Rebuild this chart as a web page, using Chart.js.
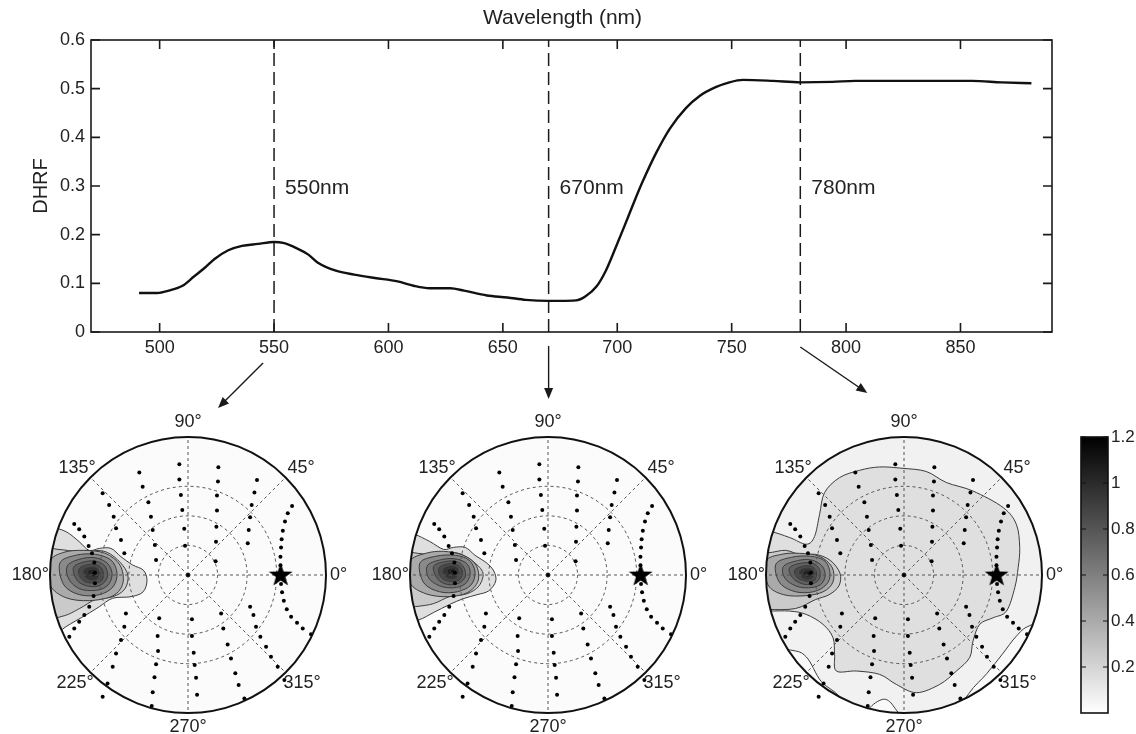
<!DOCTYPE html>
<html>
<head>
<meta charset="utf-8">
<script src="https://cdn.jsdelivr.net/npm/chart.js@4.4.0/dist/chart.umd.min.js"></script>
<style>
  body { margin: 0; background: #fff; width: 1136px; height: 734px; position: relative; overflow: hidden; }
  canvas { position: absolute; }
</style>
</head>
<body>
<canvas id="spec" width="1136" height="420" style="left:0px;top:0px"></canvas>
<canvas id="p550" width="376" height="334" style="left:0px;top:400px"></canvas>
<canvas id="p670" width="376" height="334" style="left:360px;top:400px"></canvas>
<canvas id="p780" width="376" height="334" style="left:716px;top:400px"></canvas>
<canvas id="cbar" width="96" height="334" style="left:1040px;top:400px"></canvas>
<script>
const FONT = '"Liberation Sans", Arial, sans-serif';
Chart.defaults.font.family = FONT;
Chart.defaults.color = '#222';

// ---- spectrum ----
const wavelength = [491, 499, 504, 510, 515, 520, 524, 530, 536, 543, 550, 554, 560, 565, 569, 577, 585, 594, 604, 611, 618, 627, 633, 643, 652, 660, 670, 675, 682, 686, 691, 695, 699, 703, 707, 711, 717, 723, 730, 736, 743, 749, 755, 768, 780, 794, 804, 855, 868, 881];
const dhrf = [0.080, 0.080, 0.085, 0.095, 0.114, 0.133, 0.150, 0.168, 0.177, 0.181, 0.185, 0.183, 0.172, 0.159, 0.143, 0.126, 0.118, 0.111, 0.104, 0.095, 0.090, 0.090, 0.085, 0.075, 0.071, 0.066, 0.064, 0.064, 0.065, 0.073, 0.094, 0.126, 0.170, 0.216, 0.263, 0.308, 0.368, 0.418, 0.460, 0.485, 0.503, 0.513, 0.518, 0.516, 0.513, 0.514, 0.516, 0.516, 0.513, 0.511];
const waveTicks = [500, 550, 600, 650, 700, 750, 800, 850];
const dhrfTicks = [0, 0.1, 0.2, 0.3, 0.4, 0.5, 0.6];
const bandLines = [550, 670, 780];
const bandLabels = ['550nm', '670nm', '780nm'];

// ---- polar plots (zenith in degrees, projected x = 0° azimuth, y = 90°) ----
const maxZenith = 70;
const zenithRings = [15, 30, 45];
const azimuthLabels = ['0°', '45°', '90°', '135°', '180°', '225°', '270°', '315°'];
const sunZenith = 47;
const hotspotLevels = [0.1, 0.2, 0.35, 0.5, 0.6, 0.7, 0.8, 0.9, 1.0, 1.1];
const colorTicks = [0.2, 0.4, 0.6, 0.8, 1, 1.2];

const samplePoints = [
  // left line
  [-57.7, 25.9], [-55.2, 23.2], [-52.6, 19.5], [-50.4, 14.7], [-48.7, 11.0], [-47.5, 6.3], [-47.2, 1.2], [-47.2, -4.2],
  [-47.9, -10.7], [-50.1, -16.1], [-52.6, -20.3], [-55.2, -23.7], [-57.7, -27.1], [-60.2, -31.3],
  // -30 line
  [-43.3, 41.5], [-40.0, 35.5], [-37.7, 29.6], [-36.5, 23.7], [-34.0, 17.8], [-32.3, 11.0],
  [-31.5, -19.5], [-32.3, -26.2], [-34.0, -33.0], [-36.5, -39.8], [-38.2, -46.5], [-40.8, -55.0], [-43.3, -61.8],
  // -15 line
  [-24.7, 52.0], [-23.0, 44.8], [-20.1, 36.9], [-18.8, 29.6], [-17.9, 22.8], [-16.8, 15.2], [-16.2, 7.6],
  [-14.6, -22.0], [-15.4, -31.0], [-15.2, -38.6], [-16.2, -45.3], [-17.0, -51.9], [-17.9, -59.5], [-18.4, -66.5],
  // centre line
  [-4.4, 56.2], [-4.4, 48.5], [-3.6, 40.6], [-2.9, 33.0], [-1.9, 23.4], [-1.5, 14.9], [0, 0],
  [2.0, -22.5], [2.0, -31.0], [2.9, -39.4], [3.4, -45.7], [4.1, -52.1], [4.6, -60.7],
  // +15 line
  [15.4, 54.7], [15.2, 47.4], [14.7, 40.3], [14.7, 32.7], [14.4, 24.5], [14.2, 16.9], [14.0, 7.0],
  [16.8, -19.5], [17.9, -27.1], [20.1, -35.2], [21.8, -42.3], [24.0, -49.9], [25.7, -55.8], [28.6, -62.6],
  // +30 line
  [35.0, 48.2], [33.7, 41.8], [32.3, 35.5], [31.5, 29.3], [30.8, 22.8], [30.3, 16.1],
  [31.5, -16.1], [33.2, -20.3], [34.5, -26.2], [36.7, -31.3], [39.6, -36.4], [42.1, -41.5], [45.5, -46.5], [48.9, -53.3],
  // right line
  [52.8, 35.0], [50.6, 31.3], [49.2, 27.1], [48.1, 22.5], [47.5, 18.1], [47.2, 13.9], [46.9, 9.3], [46.9, 4.9],
  [47.2, -4.6], [47.7, -8.8], [48.6, -13.0], [50.1, -17.4], [52.3, -21.2], [55.3, -24.2], [58.2, -27.1], [62.4, -30.0]
];

// hotspot contours, one closed outline per level (outside parts are clipped by the circle)
const hotspot550 = [
  [[-80, 26], [-70, 24.5], [-61.9, 22], [-55.2, 16.9], [-50.1, 12.4], [-45, 13.5], [-39.1, 13.5], [-34, 9.3], [-28.1, 5.1], [-22.7, 2.5], [-20.8, -2.5], [-22.7, -8.5], [-28.9, -11], [-38.2, -11.8], [-45, -16.1], [-51.8, -20.3], [-61.9, -26.2], [-68.7, -31.3], [-80, -35], [-90, 0]],
  [[-80, 14], [-66, 13], [-56, 12], [-48, 12.5], [-41, 11.5], [-34.5, 6.5], [-30.5, 0], [-32, -7], [-38, -11], [-47, -12.5], [-55, -17], [-64, -21], [-80, -23], [-90, -4]],
  [[-70, 7], [-63, 11.5], [-53, 12.5], [-42, 11], [-34.5, 5], [-33, -4], [-38, -10.5], [-50, -13], [-62, -11.5], [-70, -5]],
  [[-65, 6], [-57, 10], [-47, 10.5], [-39, 7.5], [-36, 1], [-38, -6], [-45, -10], [-55, -10], [-63, -5]],
  [[-61, 5], [-53, 8.5], [-46, 8.5], [-40.5, 5.5], [-38.5, 0], [-41, -5.5], [-47, -7.8], [-55, -7], [-60.5, -2]],
  [[-58, 4], [-51, 7], [-45, 6.5], [-41.5, 3.5], [-41, -1.5], [-44.5, -5.2], [-50, -5.8], [-56, -3]],
  [[-55, 3.5], [-49.5, 5.5], [-45, 4.5], [-43, 1.5], [-43.5, -2.5], [-47, -4], [-52, -3.5], [-55, -0.5]],
  [[-52.5, 2.8], [-48.5, 4], [-45.8, 3], [-45, 0.5], [-46.3, -2], [-49.5, -2.5], [-52.5, -0.5]],
  [[-50.5, 2.2], [-47.8, 3], [-46.4, 1.8], [-46.6, -0.3], [-48.6, -1], [-50.6, 0.3]],
  [[-49, 1.6], [-47.5, 2], [-46.9, 1], [-47.4, 0.1], [-48.7, 0.3]]
];
const hotspot670 = [
  [[-80, 24], [-69, 21.2], [-60, 17], [-53, 13], [-48, 14], [-42, 14], [-37, 10], [-31, 6], [-27.5, 2], [-26.5, -3], [-30, -8], [-36, -10], [-43, -12], [-50, -15], [-58, -19], [-66, -23], [-80, -27], [-90, 0]],
  [[-80, 12], [-66, 11], [-56, 10], [-50, 11.5], [-44, 10.5], [-37.5, 6.5], [-33, 1], [-35, -5.5], [-41, -9.5], [-50, -11], [-58, -14.5], [-67, -16], [-80, -17], [-90, -2]],
  [[-70, 7], [-62, 11], [-53, 12], [-43, 10], [-36.5, 5], [-35.5, -3], [-41, -9], [-51, -11], [-62, -9.5], [-70, -4]],
  [[-65, 6], [-57, 9.5], [-47, 10], [-40, 7.5], [-37, 1.5], [-39, -5], [-46, -8.5], [-55, -8.5], [-63, -4]],
  [[-61, 5], [-53, 8], [-46, 8], [-41, 5.5], [-39.5, 0.5], [-42, -4.5], [-48, -6.5], [-55, -5.5], [-60.5, -1.5]],
  [[-58, 4.5], [-51, 7], [-45.5, 6.5], [-42.5, 3.5], [-42, -1], [-45.5, -4.3], [-51, -4.8], [-56, -2]],
  [[-55, 4], [-50, 5.8], [-45.5, 5], [-43.5, 2], [-44.5, -2], [-48, -3.3], [-52.5, -2.5], [-55, 0]],
  [[-52.8, 3.3], [-49, 4.6], [-46, 3.6], [-45.5, 1], [-47, -1.5], [-50, -1.8], [-52.8, 0.2]],
  [[-50.8, 2.8], [-48, 3.6], [-46.7, 2.4], [-47, 0.5], [-48.9, 0], [-50.8, 0.9]],
  [[-49.3, 2.3], [-47.8, 2.8], [-47.2, 1.8], [-47.8, 1], [-49, 1.2]]
];
const field780 = [
  [[-80, 22], [-69, 22.3], [-58, 19], [-49.6, 15.6], [-45.4, 19.5], [-42.8, 30.8], [-40.3, 41.8], [-32.7, 49.4], [-22.5, 53.1], [-12.4, 54.8], [-0.5, 54.1], [11.3, 52.5], [21.5, 46.9], [35, 42.6], [50.3, 34.2], [57, 25.7], [58.7, 13.9], [57.9, 3.7], [56.2, -6.4], [52, -18.3], [45.2, -21.7], [38.4, -25], [35, -33.5], [33.3, -41.9], [26.6, -48.7], [18.1, -55.5], [6.3, -59.7], [-3.9, -55.5], [-12.4, -50.4], [-24.2, -48.7], [-34.3, -48.7], [-35.2, -40.3], [-36, -31.8], [-41.1, -25], [-49.6, -20], [-58, -18.3], [-69, -18.3], [-80, -18]],
  [[-80, 12], [-69, 11.3], [-60, 12.5], [-52, 10], [-45, 10.5], [-37.5, 7.5], [-32.5, 1], [-33, -5.5], [-38, -10], [-45, -12.5], [-55, -17], [-69, -17.5], [-80, -17], [-90, -2]],
  [[-70, 7], [-62, 10.5], [-53, 11], [-43, 9.5], [-36.5, 4], [-36, -3.5], [-41, -8.5], [-50, -10.5], [-61, -10], [-69, -5]],
  [[-65, 5.5], [-57, 9], [-47.5, 9.5], [-40, 7], [-37.5, 0.5], [-39.5, -5], [-46, -8.5], [-55, -8.5], [-63, -4]],
  [[-61, 4.5], [-53, 7.5], [-46.5, 7.5], [-41.5, 4.5], [-40, -0.5], [-42.5, -5], [-48.5, -6.5], [-55, -5.5], [-60.5, -1.5]],
  [[-58, 3.8], [-51, 6.2], [-45.5, 5.5], [-42.8, 2.5], [-43, -2], [-46.5, -4.5], [-51.5, -4.5], [-56.5, -1.5]],
  [[-55, 3], [-49.5, 4.8], [-45.8, 3.8], [-44.3, 1], [-45.3, -2.5], [-48.5, -3.3], [-52.8, -2.2], [-55.2, 0]],
  [[-52.5, 2.4], [-48.8, 3.5], [-46.3, 2.5], [-45.8, 0], [-47.2, -1.8], [-50.2, -2], [-52.6, -0.2]],
  [[-50.6, 1.8], [-48.2, 2.6], [-46.9, 1.6], [-47.1, -0.3], [-48.9, -1], [-50.8, 0]],
  [[-49.4, 1.2], [-48.1, 1.6], [-47.6, 0.8], [-48.1, 0], [-49.2, 0.2]]
];
// low pockets near the lower rim of the 780 nm plot
const low780 = [
  [[-80, -36], [-58, -38], [-49.6, -41.5], [-42, -54], [-32.7, -61.8], [-27, -75], [-60, -75]],
  [[-21, -75], [-17, -67], [-10, -63], [-5, -67], [-2, -75]],
  [[80, -22], [63.8, -25.7], [57, -31], [50, -40], [42, -50], [33, -60], [25, -75], [60, -75]]
];

function grayFor(v) {
  const g = Math.round(255 * (1 - Math.min(v, 1.2) / 1.2));
  return `rgb(${g},${g},${g})`;
}

function closedSpline(ctx, pts) {
  const n = pts.length;
  ctx.moveTo(pts[0][0], pts[0][1]);
  for (let i = 0; i < n; i++) {
    const p0 = pts[(i - 1 + n) % n], p1 = pts[i], p2 = pts[(i + 1) % n], p3 = pts[(i + 2) % n];
    const t = 1 / 6;
    ctx.bezierCurveTo(p1[0] + (p2[0] - p0[0]) * t, p1[1] + (p2[1] - p0[1]) * t,
                      p2[0] - (p3[0] - p1[0]) * t, p2[1] - (p3[1] - p1[1]) * t, p2[0], p2[1]);
  }
  ctx.closePath();
}

// ---- spectrum chart ----
const specFrame = {
  id: 'specFrame',
  afterDraw(chart) {
    const { ctx, chartArea: a, scales: { x, y } } = chart;
    ctx.save();
    ctx.strokeStyle = '#1a1a1a';
    ctx.lineWidth = 1.6;
    ctx.strokeRect(a.left, a.top, a.right - a.left, a.bottom - a.top);
    ctx.beginPath();
    waveTicks.forEach(v => {
      const px = x.getPixelForValue(v);
      ctx.moveTo(px, a.bottom); ctx.lineTo(px, a.bottom - 9);
      ctx.moveTo(px, a.top); ctx.lineTo(px, a.top + 9);
    });
    dhrfTicks.forEach(v => {
      const py = y.getPixelForValue(v);
      ctx.moveTo(a.left, py); ctx.lineTo(a.left + 9, py);
      ctx.moveTo(a.right, py); ctx.lineTo(a.right - 9, py);
    });
    ctx.stroke();

    // title on top
    ctx.fillStyle = '#222';
    ctx.font = '21px ' + FONT;
    ctx.textAlign = 'center';
    ctx.textBaseline = 'middle';
    ctx.fillText('Wavelength (nm)', (a.left + a.right) / 2 - 9, 18);

    // band labels
    ctx.textAlign = 'left';
    bandLines.forEach((b, i) => {
      ctx.fillText(bandLabels[i], x.getPixelForValue(b) + 11, y.getPixelForValue(0.296));
    });

    // arrows down to the polar plots
    const xb = bandLines.map(b => x.getPixelForValue(b));
    const arrows = [
      [xb[0] - 11, a.bottom + 31, xb[0] - 56, a.bottom + 76],
      [xb[1], a.bottom + 14, xb[1], a.bottom + 67],
      [xb[2], a.bottom + 15, xb[2] + 67, a.bottom + 61]
    ];
    ctx.lineWidth = 1.4;
    ctx.fillStyle = '#1a1a1a';
    arrows.forEach(([x0, y0, x1, y1]) => {
      const ang = Math.atan2(y1 - y0, x1 - x0);
      ctx.beginPath();
      ctx.moveTo(x0, y0);
      ctx.lineTo(x1 - 8 * Math.cos(ang), y1 - 8 * Math.sin(ang));
      ctx.stroke();
      ctx.beginPath();
      ctx.moveTo(x1, y1);
      ctx.lineTo(x1 - 11 * Math.cos(ang) + 4.5 * Math.sin(ang), y1 - 11 * Math.sin(ang) - 4.5 * Math.cos(ang));
      ctx.lineTo(x1 - 11 * Math.cos(ang) - 4.5 * Math.sin(ang), y1 - 11 * Math.sin(ang) + 4.5 * Math.cos(ang));
      ctx.closePath();
      ctx.fill();
    });
    ctx.restore();
  }
};

new Chart(document.getElementById('spec'), {
  type: 'line',
  data: {
    datasets: [
      {
        data: wavelength.map((w, i) => ({ x: w, y: dhrf[i] })),
        borderColor: '#111', borderWidth: 2.4, pointRadius: 0, cubicInterpolationMode: 'monotone'
      },
      ...bandLines.map(b => ({
        data: [{ x: b, y: 0 }, { x: b, y: 0.6 }],
        borderColor: '#1a1a1a', borderWidth: 1.5, borderDash: [13, 6], pointRadius: 0
      }))
    ]
  },
  options: {
    responsive: false,
    animation: false,
    layout: { padding: { left: 0, top: 40, right: 84, bottom: 58 } },
    plugins: { legend: { display: false }, tooltip: { enabled: false } },
    scales: {
      x: {
        type: 'linear', min: 470, max: 890,
        afterBuildTicks: s => { s.ticks = waveTicks.map(v => ({ value: v })); },
        afterFit: s => { s.height = 30; },
        grid: { display: false, drawTicks: false },
        border: { display: false },
        ticks: { font: { size: 18 }, padding: 5, maxRotation: 0, color: '#222' }
      },
      y: {
        min: 0, max: 0.6,
        afterBuildTicks: s => { s.ticks = dhrfTicks.map(v => ({ value: v })); },
        afterFit: s => { s.width = 91; },
        grid: { display: false, drawTicks: false },
        border: { display: false },
        title: { display: true, text: 'DHRF', font: { size: 20 }, color: '#222', padding: { top: 29, bottom: 0 } },
        ticks: { font: { size: 18 }, padding: 6, color: '#222', callback: v => String(+v.toFixed(2)) }
      }
    }
  },
  plugins: [specFrame]
});

// ---- polar plots ----
function makeStar() {
  const c = document.createElement('canvas');
  c.width = 26; c.height = 26;
  const g = c.getContext('2d');
  g.fillStyle = '#000';
  g.beginPath();
  for (let k = 0; k < 10; k++) {
    const r = k % 2 ? 5 : 12.5;
    const a = -Math.PI / 2 + k * Math.PI / 5;
    g.lineTo(13 + r * Math.cos(a), 13.5 + r * Math.sin(a));
  }
  g.closePath();
  g.fill();
  return c;
}
const starImg = makeStar();

function polarDecor(contours, levels, background, pockets) {
  return {
    id: 'polarDecor',
    beforeDatasetsDraw(chart) {
      const { ctx, scales: { x, y } } = chart;
      const cx = x.getPixelForValue(0), cy = y.getPixelForValue(0);
      const R = x.getPixelForValue(maxZenith) - cx;
      const toPx = pts => pts.map(p => [x.getPixelForValue(p[0]), y.getPixelForValue(p[1])]);
      ctx.save();
      ctx.beginPath();
      ctx.arc(cx, cy, R, 0, Math.PI * 2);
      ctx.clip();
      ctx.fillStyle = background;
      ctx.fillRect(cx - R, cy - R, 2 * R, 2 * R);
      ctx.strokeStyle = '#3c3c3c';
      ctx.lineWidth = 1;
      (pockets || []).forEach(poly => {
        ctx.beginPath();
        closedSpline(ctx, toPx(poly));
        ctx.fillStyle = '#f9f9f9';
        ctx.fill();
        ctx.stroke();
      });
      contours.forEach((poly, i) => {
        ctx.beginPath();
        closedSpline(ctx, toPx(poly));
        ctx.fillStyle = grayFor(levels[i] + 0.05);
        ctx.fill();
        ctx.stroke();
      });
      ctx.restore();

      // dashed polar grid
      ctx.save();
      ctx.strokeStyle = '#555';
      ctx.lineWidth = 1;
      ctx.setLineDash([3, 3]);
      zenithRings.forEach(z => {
        ctx.beginPath();
        ctx.arc(cx, cy, x.getPixelForValue(z) - cx, 0, Math.PI * 2);
        ctx.stroke();
      });
      for (let k = 0; k < 8; k++) {
        const a = k * Math.PI / 4;
        ctx.beginPath();
        ctx.moveTo(cx, cy);
        ctx.lineTo(cx + R * Math.cos(a), cy - R * Math.sin(a));
        ctx.stroke();
      }
      ctx.restore();
    },
    afterDatasetsDraw(chart) {
      const { ctx, scales: { x, y } } = chart;
      const cx = x.getPixelForValue(0), cy = y.getPixelForValue(0);
      const R = x.getPixelForValue(maxZenith) - cx;
      ctx.save();
      ctx.strokeStyle = '#111';
      ctx.lineWidth = 2;
      ctx.beginPath();
      ctx.arc(cx, cy, R, 0, Math.PI * 2);
      ctx.stroke();
      ctx.fillStyle = '#222';
      ctx.font = '18px ' + FONT;
      ctx.textBaseline = 'middle';
      const pos = [
        [R + 4, 0, 'left'], [113, -107, 'center'], [0, -153, 'center'], [-111, -107, 'center'],
        [-R - 1, 0, 'right'], [-113, 108, 'center'], [0, 152, 'center'], [114, 108, 'center']
      ];
      azimuthLabels.forEach((t, k) => {
        ctx.textAlign = pos[k][2];
        ctx.fillText(t, cx + pos[k][0], cy + pos[k][1]);
      });
      ctx.restore();
    }
  };
}

function polarChart(id, contours, levels, background, pockets) {
  new Chart(document.getElementById(id), {
    type: 'scatter',
    data: {
      datasets: [
        {
          data: samplePoints.map(p => ({ x: p[0], y: p[1] })),
          pointRadius: 2, pointBackgroundColor: '#000', pointBorderWidth: 0
        },
        {
          data: [{ x: sunZenith, y: 0 }],
          pointStyle: starImg, pointRadius: 12
        }
      ]
    },
    options: {
      responsive: false,
      animation: false,
      layout: { padding: { left: 50, right: 50, top: 37, bottom: 21 } },
      plugins: { legend: { display: false }, tooltip: { enabled: false } },
      scales: {
        x: { type: 'linear', min: -maxZenith, max: maxZenith, display: false },
        y: { type: 'linear', min: -maxZenith, max: maxZenith, display: false }
      }
    },
    plugins: [polarDecor(contours, levels, background, pockets)]
  });
}

polarChart('p550', hotspot550, hotspotLevels, '#fbfbfb');
polarChart('p670', hotspot670, hotspotLevels, '#fbfbfb');
polarChart('p780', field780, hotspotLevels, '#f1f1f1', low780);

// ---- colour bar ----
const cbarFrame = {
  id: 'cbarFrame',
  afterDraw(chart) {
    const { ctx, chartArea: a, scales: { y } } = chart;
    ctx.save();
    ctx.strokeStyle = '#111';
    ctx.lineWidth = 1.6;
    ctx.strokeRect(a.left, a.top, a.right - a.left, a.bottom - a.top);
    ctx.lineWidth = 1;
    ctx.beginPath();
    colorTicks.forEach(v => {
      const py = y.getPixelForValue(v);
      ctx.moveTo(a.left, py); ctx.lineTo(a.left + 5, py);
      ctx.moveTo(a.right, py); ctx.lineTo(a.right - 5, py);
    });
    ctx.stroke();
    ctx.restore();
  }
};

new Chart(document.getElementById('cbar'), {
  type: 'bar',
  data: {
    labels: [''],
    datasets: [{
      data: [[0, 1.2]],
      barPercentage: 1, categoryPercentage: 1, borderWidth: 0,
      backgroundColor: c => {
        const { ctx, chartArea } = c.chart;
        if (!chartArea) return '#888';
        const g = ctx.createLinearGradient(0, chartArea.bottom, 0, chartArea.top);
        g.addColorStop(0, '#ffffff');
        g.addColorStop(1, '#000000');
        return g;
      }
    }]
  },
  options: {
    responsive: false,
    animation: false,
    layout: { padding: { left: 41, right: 0, top: 37, bottom: 21 } },
    plugins: { legend: { display: false }, tooltip: { enabled: false } },
    scales: {
      x: { display: false },
      y: {
        position: 'right', min: 0, max: 1.2,
        afterBuildTicks: s => { s.ticks = colorTicks.map(v => ({ value: v })); },
        afterFit: s => { s.width = 28; },
        grid: { display: false, drawTicks: false },
        border: { display: false },
        ticks: { font: { size: 17 }, padding: 3, color: '#222', callback: v => String(+v.toFixed(1)) }
      }
    }
  },
  plugins: [cbarFrame]
});
</script>
</body>
</html>
